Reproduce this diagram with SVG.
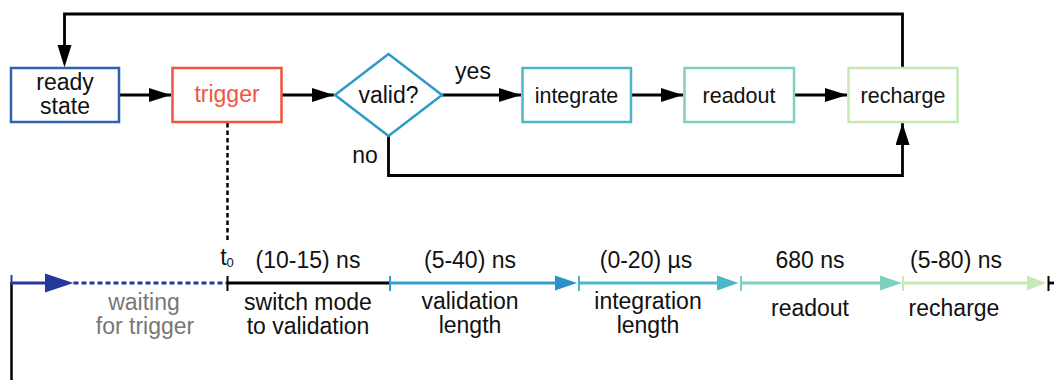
<svg xmlns="http://www.w3.org/2000/svg" width="1054" height="380" viewBox="0 0 1054 380">
<style>
text{font-family:"Liberation Sans",Arial,sans-serif;text-anchor:middle;fill:#111}
.n{font-size:23px}
.m{font-size:21.5px}
.t{font-size:23px}
.box{fill:#fff;stroke-width:2.5}
.c{fill:none;stroke:#000;stroke-width:2.8}
.tk{stroke-width:2}
</style>
<defs>
<marker id="ah" viewBox="0 0 22 14" refX="22" refY="7" markerWidth="22" markerHeight="14" markerUnits="userSpaceOnUse" orient="auto"><path d="M0,0 L22,7 L0,14 Z" fill="#000"/></marker>
</defs>
<rect width="1054" height="380" fill="#fff"/>
<g id="connectors">
<path class="c" d="M902.5,68 V14 H64.5 V46" />
<path d="M57.5,45 L71.5,45 L64.5,67.5 Z" fill="#000"/>
<path class="c" d="M119,95 H171" marker-end="url(#ah)"/>
<path class="c" d="M282,95 H334" marker-end="url(#ah)"/>
<path class="c" d="M442,95 H521" marker-end="url(#ah)"/>
<path class="c" d="M631,95 H683" marker-end="url(#ah)"/>
<path class="c" d="M794,95 H847" marker-end="url(#ah)"/>
<path class="c" d="M388.5,136 V175.5 H902.5 V123" marker-end="url(#ah)"/>
<path d="M227.5,123 V240" fill="none" stroke="#000" stroke-width="2.5" stroke-dasharray="4.5 3"/>
<text class="n" x="473" y="79">yes</text>
<text class="n" x="365" y="163">no</text>
</g>
<g id="ready"><rect class="box" x="11" y="68" width="108" height="54" stroke="#2d62ad"/><text class="n" x="65" y="90">ready</text><text class="n" x="65" y="114">state</text></g>
<g id="trigger"><rect class="box" x="172.5" y="68" width="109" height="54" stroke="#f2553f"/><text class="n" x="227" y="102" style="fill:#f2553f">trigger</text></g>
<g id="valid"><path class="box" d="M335,95 L388.5,54 L442,95 L388.5,136 Z" stroke="#2b9ac7"/><text class="n" x="388.5" y="103">valid?</text></g>
<g id="integrate"><rect class="box" x="522.5" y="68" width="108.5" height="54" stroke="#4ab6c8"/><text class="m" x="576.5" y="103">integrate</text></g>
<g id="readout"><rect class="box" x="684.5" y="68" width="109.5" height="54" stroke="#80cfc0"/><text class="m" x="739" y="103">readout</text></g>
<g id="recharge"><rect class="box" x="848.5" y="68" width="109" height="54" stroke="#c5e8b5"/><text class="m" x="903" y="103">recharge</text></g>
<g id="timeline">
<line x1="11.5" y1="282" x2="11.5" y2="380" stroke="#000" stroke-width="2.5"/>
<line x1="11.5" y1="283" x2="46" y2="283" stroke="#26399a" stroke-width="2.8"/>
<line x1="11.5" y1="275" x2="11.5" y2="285" stroke="#26399a" stroke-width="2"/>
<path d="M45,273.5 L73.5,283 L45,292.5 Z" fill="#26399a"/>
<line x1="73.5" y1="283" x2="227" y2="283" stroke="#26399a" stroke-width="2.8" stroke-dasharray="5 3"/>
<line x1="227.5" y1="283" x2="390" y2="283" stroke="#000" stroke-width="2.8"/>
<line class="tk" x1="227.5" y1="276" x2="227.5" y2="291" stroke="#000"/>
<line x1="390" y1="283" x2="556" y2="283" stroke="#2f9fcf" stroke-width="2.8"/>
<path d="M555,275.5 L577,283 L555,290.5 Z" fill="#2a92c4"/>
<line class="tk" x1="390" y1="276" x2="390" y2="291" stroke="#2f9fcf"/>
<line x1="579" y1="283" x2="718" y2="283" stroke="#4cb8c6" stroke-width="2.8"/>
<path d="M717,275.5 L738.5,283 L717,290.5 Z" fill="#4cb8c6"/>
<line class="tk" x1="579" y1="276" x2="579" y2="291" stroke="#4cb8c6"/>
<line x1="741" y1="283" x2="881" y2="283" stroke="#80cfbe" stroke-width="2.8"/>
<path d="M880,275.5 L902,283 L880,290.5 Z" fill="#80cfbe"/>
<line class="tk" x1="741" y1="276" x2="741" y2="291" stroke="#80cfbe"/>
<line x1="903" y1="283" x2="1028" y2="283" stroke="#c6eab6" stroke-width="2.8"/>
<path d="M1027,275.5 L1046,283 L1027,290.5 Z" fill="#c6eab6"/>
<line class="tk" x1="903" y1="276" x2="903" y2="291" stroke="#c6eab6"/>
<line x1="1048.5" y1="283" x2="1054" y2="283" stroke="#000" stroke-width="2.8"/>
<line class="tk" x1="1048.5" y1="276" x2="1048.5" y2="291" stroke="#000"/>
<text class="t" x="227" y="265">t<tspan font-size="13" dy="2">0</tspan></text>
<text class="t" x="308" y="268">(10-15) ns</text>
<text class="t" x="470" y="268">(5-40) ns</text>
<text class="t" x="646" y="268">(0-20) µs</text>
<text class="t" x="810" y="268">680 ns</text>
<text class="t" x="956" y="268">(5-80) ns</text>
<text class="t" x="144" y="310" style="fill:#777">waiting</text>
<text class="t" x="145" y="334" style="fill:#777">for trigger</text>
<text class="t" x="308" y="310">switch mode</text>
<text class="t" x="308" y="334">to validation</text>
<text class="t" x="470" y="309">validation</text>
<text class="t" x="470" y="333">length</text>
<text class="t" x="648" y="309">integration</text>
<text class="t" x="648" y="333">length</text>
<text class="t" x="810" y="316">readout</text>
<text class="t" x="954" y="316">recharge</text>
</g>
</svg>
